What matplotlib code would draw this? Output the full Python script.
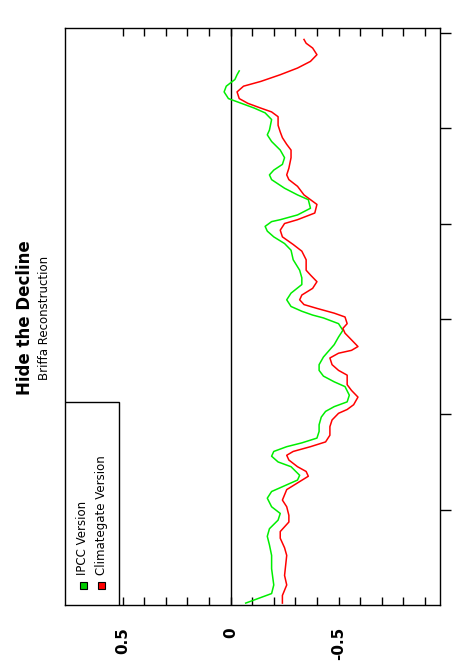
# imports
import matplotlib
matplotlib.use('Agg')
import matplotlib.pyplot as plt
from matplotlib.patches import Rectangle

# Data - Briffa reconstruction, IPCC version (cut at 1960)
ipcc_year = [1402, 1412, 1421, 1438, 1452, 1463, 1472, 1480, 1489, 1496,
             1503, 1512, 1519, 1524, 1531, 1536, 1545, 1550, 1556, 1561,
             1566, 1570, 1575, 1582, 1589, 1597, 1603, 1608, 1613, 1620,
             1629, 1634, 1640, 1646, 1652, 1660, 1673, 1681, 1688, 1695,
             1701, 1704, 1708, 1713, 1720, 1727, 1736, 1743, 1751, 1762,
             1772, 1779, 1786, 1792, 1797, 1802, 1804, 1809, 1816, 1825,
             1830, 1837, 1846, 1851, 1856, 1862, 1869, 1877, 1886, 1893,
             1898, 1909, 1916, 1921, 1926, 1931, 1938, 1944, 1951, 1956,
             1960]
ipcc_val = [-0.07, -0.19, -0.20, -0.19, -0.19, -0.18, -0.17, -0.18, -0.22, -0.23,
            -0.19, -0.17, -0.19, -0.24, -0.31, -0.32, -0.28, -0.22, -0.19, -0.20,
            -0.26, -0.33, -0.40, -0.41, -0.41, -0.42, -0.44, -0.48, -0.54, -0.55,
            -0.53, -0.48, -0.43, -0.41, -0.41, -0.43, -0.48, -0.50, -0.52, -0.50,
            -0.43, -0.38, -0.33, -0.28, -0.26, -0.28, -0.33, -0.33, -0.32, -0.29,
            -0.28, -0.25, -0.20, -0.17, -0.16, -0.19, -0.23, -0.31, -0.37, -0.36,
            -0.31, -0.25, -0.19, -0.18, -0.20, -0.24, -0.25, -0.23, -0.19, -0.17,
            -0.18, -0.19, -0.16, -0.11, -0.05, 0.01, 0.03, 0.02, -0.02, -0.03,
            -0.04]

# Climategate version (to 1994)
cg_year = [1402, 1410, 1421, 1431, 1452, 1460, 1470, 1477, 1487, 1494,
           1503, 1510, 1521, 1528, 1535, 1540, 1545, 1552, 1557, 1561,
           1566, 1571, 1578, 1587, 1594, 1601, 1605, 1610, 1618, 1625,
           1631, 1641, 1646, 1652, 1659, 1664, 1667, 1671, 1678, 1685,
           1690, 1695, 1702, 1706, 1711, 1715, 1720, 1725, 1732, 1739,
           1746, 1751, 1762, 1771, 1778, 1786, 1793, 1800, 1804, 1811,
           1820, 1825, 1830, 1839, 1846, 1851, 1858, 1869, 1877, 1883,
           1890, 1896, 1903, 1912, 1917, 1921, 1926, 1931, 1938, 1944,
           1949, 1956, 1963, 1970, 1977, 1984, 1989, 1993]
cg_val = [-0.24, -0.24, -0.26, -0.25, -0.26, -0.25, -0.23, -0.23, -0.27, -0.27,
          -0.26, -0.24, -0.26, -0.31, -0.36, -0.35, -0.31, -0.27, -0.26, -0.29,
          -0.37, -0.44, -0.46, -0.46, -0.47, -0.50, -0.54, -0.57, -0.59, -0.56,
          -0.54, -0.54, -0.50, -0.47, -0.46, -0.50, -0.56, -0.59, -0.56, -0.53,
          -0.52, -0.54, -0.53, -0.48, -0.40, -0.34, -0.32, -0.33, -0.38, -0.40,
          -0.37, -0.35, -0.35, -0.33, -0.29, -0.24, -0.23, -0.25, -0.31, -0.39,
          -0.40, -0.37, -0.34, -0.31, -0.27, -0.26, -0.27, -0.28, -0.28, -0.26,
          -0.24, -0.23, -0.22, -0.22, -0.19, -0.14, -0.08, -0.04, -0.03, -0.06,
          -0.14, -0.23, -0.31, -0.37, -0.40, -0.38, -0.35, -0.34]

# Ticks
val_ticks = [0.5, 0.4, 0.3, 0.2, 0.1, 0.0, -0.1, -0.2, -0.3, -0.4,
             -0.5, -0.6, -0.7, -0.8, -0.9]
val_labels = ['0.5', '', '', '', '', '0', '', '', '', '',
              '-0.5', '', '', '', '']
year_ticks = [1500, 1600, 1700, 1800, 1900, 2000]

W, H = 459, 670
fig = plt.figure(figsize=(W / 100, H / 100), dpi=100)
# chart is drawn rotated: values run along x (reversed), years run upward
ax = fig.add_axes([65 / W, 65 / H, 375 / W, 577 / H])

ax.plot(ipcc_val, ipcc_year, color='#00ee00', lw=1.1, zorder=2)
ax.plot(cg_val, cg_year, color='#ff0000', lw=1.1, zorder=2)
ax.axvline(0, color='black', lw=1, zorder=1)

ax.set_xlim(0.767, -0.97)
ax.set_ylim(1400, 2005)

ax.set_xticks(val_ticks)
ax.set_xticklabels(val_labels, rotation=90, fontsize=11, fontweight='bold')
ax.tick_params(axis='x', direction='in', top=True, bottom=True, length=6,
               width=1, pad=16)
ax.yaxis.tick_right()
ax.set_yticks(year_ticks)
ax.set_yticklabels([])
ax.tick_params(axis='y', direction='out', length=8, width=1, left=False)
for s in ax.spines.values():
    s.set_linewidth(1)

# legend box, bottom-left inside the frame
ax.add_patch(Rectangle((0, 0), 54 / 375, 203 / 577, transform=ax.transAxes,
                       facecolor='white', edgecolor='black', lw=1, zorder=3))
for xp, col, lab in [(83, '#00cc00', 'IPCC Version'),
                     (101, '#ff0000', 'Climategate Version')]:
    xa = (xp - 65) / 375
    ax.add_patch(Rectangle((xa - 3.5 / 375, 16.5 / 577), 7 / 375, 7 / 577,
                           transform=ax.transAxes, facecolor=col,
                           edgecolor='black', lw=0.8, zorder=4))
    ax.text(xa, 30 / 577, lab, transform=ax.transAxes, rotation=90,
            ha='center', va='bottom', fontsize=8.5, zorder=5)

# titles
fig.text(25 / W, 1 - 318 / H, 'Hide the Decline', rotation=90,
         ha='center', va='center', fontsize=12, fontweight='bold')
fig.text(44 / W, 1 - 318 / H, 'Briffa Reconstruction', rotation=90,
         ha='center', va='center', fontsize=8.5)

plt.savefig('out.png', dpi=100, facecolor='white')
